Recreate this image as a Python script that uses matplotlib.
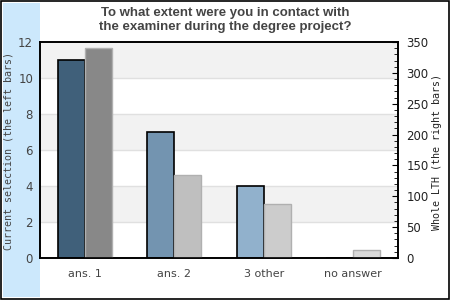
import matplotlib
matplotlib.use("Agg")
import matplotlib.pyplot as plt
import numpy as np
from matplotlib.patches import Rectangle

categories = ["ans. 1", "ans. 2", "3 other", "no answer"]
current = [11, 7, 4, 0]
whole = [340, 134, 88, 13]
left_colors = ["#40607a", "#7394b0", "#91b1cc", "#a8c4dc"]
right_colors = ["#888888", "#bfbfbf", "#cccccc", "#d9d9d9"]
title = "To what extent were you in contact with\nthe examiner during the degree project?"
ylabel_left = "Current selection (the left bars)"
ylabel_right = "Whole LTH (the right bars)"

W, H = 450, 300
fig = plt.figure(figsize=(4.5, 3), dpi=100)
fig.patch.set_facecolor("white")

# blue strip and frame
fig.add_artist(Rectangle((3 / W, 3 / H), 37 / W, 294 / H, transform=fig.transFigure,
                         facecolor="#cce8fc", edgecolor="none", zorder=0))
fig.add_artist(Rectangle((0.5 / W, 1.5 / H), 448 / W, 297.5 / H, transform=fig.transFigure,
                         facecolor="none", edgecolor="black", linewidth=1.2, zorder=5))

ax = fig.add_axes([40 / W, (H - 258) / H, 358 / W, 216 / H])
ax.set_facecolor("white")
x = np.arange(len(categories))
bw = 0.3
ax.set_xlim(-0.5, len(categories) - 0.5)
ax.set_ylim(0, 12)
for i in range(6):
    if i % 2 == 1:
        ax.axhspan(2 * i, 2 * i + 2, color="#f2f2f2", zorder=0, lw=0)
for y in range(2, 12, 2):
    ax.axhline(y, color="#e0e0e0", lw=1, zorder=0.5)

ax.bar(x - bw / 2, current, width=bw, color=left_colors, edgecolor="black", linewidth=1.2, zorder=3)

ax2 = ax.twinx()
ax2.set_ylim(0, 350)
ax2.bar(x + bw / 2, whole, width=bw, color=right_colors, edgecolor="#b0b0b0", linewidth=1, zorder=2)

ax.set_xticks(x)
ax.set_xticklabels(categories)
ax.tick_params(axis="x", length=0, pad=8, labelsize=8, labelcolor="#444444")
ax.set_yticks(range(0, 13, 2))
ax.tick_params(axis="y", length=0, pad=5, labelsize=8.5, labelcolor="#444444")

ax2.set_yticks(range(0, 351, 50))
ax2.set_yticks(range(0, 351, 10), minor=True)
ax2.tick_params(axis="y", which="major", direction="in", length=4, pad=6, labelsize=8.5, labelcolor="#222222")
ax2.tick_params(axis="y", which="minor", direction="in", length=3)

fig.text(9 / W, 1 - 151 / H, ylabel_left, rotation=90, ha="center", va="center",
         family="DejaVu Sans Mono", fontsize=7.2, color="#444444")
fig.text(437 / W, 1 - 152 / H, ylabel_right, rotation=90, ha="center", va="center",
         family="DejaVu Sans Mono", fontsize=7.2, color="#222222")

for a in (ax, ax2):
    for s in a.spines.values():
        s.set_linewidth(1.2)
        s.set_color("black")

fig.text(225 / W, 1 - 20 / H, title, ha="center", va="center", fontsize=9.5, fontweight="bold",
         color="#444444", family="Liberation Sans", linespacing=1.15)

fig.savefig("out.png", dpi=100)
